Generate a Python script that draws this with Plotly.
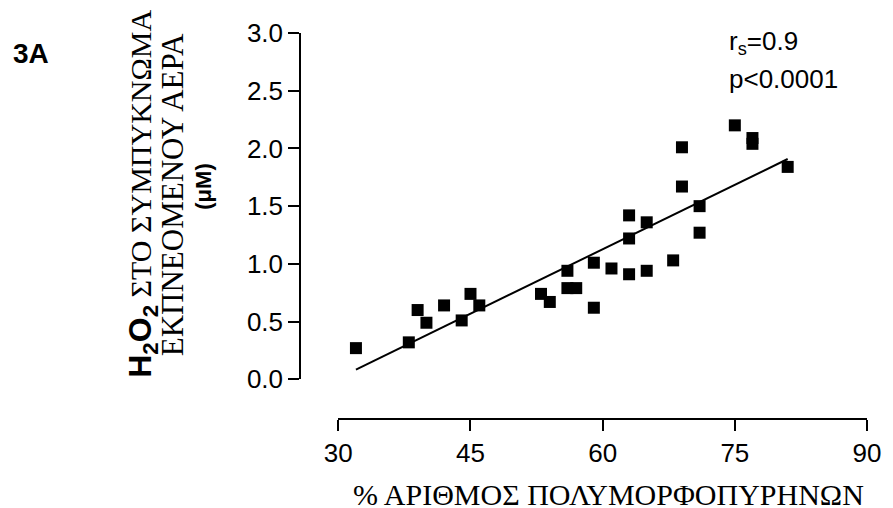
import numpy as np
import plotly.graph_objects as go

# % polymorphonuclear cells vs exhaled-breath-condensate H2O2 (µM)
pmn_pct = [32, 38, 39, 40, 42, 44, 45, 46, 53, 54, 56, 56, 57, 59, 59,
           61, 63, 63, 63, 65, 65, 68, 69, 69, 71, 71, 75, 77, 77, 81]
h2o2_um = [0.27, 0.32, 0.60, 0.49, 0.64, 0.51, 0.74, 0.64, 0.74, 0.67, 0.94, 0.79, 0.79, 1.01, 0.62,
           0.96, 1.42, 1.22, 0.91, 1.36, 0.94, 1.03, 2.01, 1.67, 1.50, 1.27, 2.20, 2.09, 2.04, 1.84]

x_ticks = [30, 45, 60, 75, 90]
y_ticks = [0.0, 0.5, 1.0, 1.5, 2.0, 2.5, 3.0]

# least-squares line over the observed x span
slope, intercept = np.polyfit(pmn_pct, h2o2_um, 1)
fit_x = np.array([min(pmn_pct), max(pmn_pct)])
fit_y = slope * fit_x + intercept

W, H = 893, 508
ML, MR, MT, MB = 300, 16, 33, 89
PW, PH = W - ML - MR, H - MT - MB


def px(x):
    return (x - ML) / PW


def py(y):
    return (H - MB - y) / PH


SANS = "Liberation Sans, Arial, sans-serif"
SERIF = "Liberation Serif, Times New Roman, serif"

fig = go.Figure()
fig.add_trace(go.Scatter(
    x=fit_x, y=fit_y, mode="lines",
    line=dict(color="black", width=2), hoverinfo="skip", showlegend=False))
fig.add_trace(go.Scatter(
    x=pmn_pct, y=h2o2_um, mode="markers",
    marker=dict(symbol="square", size=12, color="black"),
    cliponaxis=False, showlegend=False))

axis_common = dict(
    showgrid=False, zeroline=False, showline=True, linecolor="black", linewidth=1.5,
    ticks="outside", ticklen=11, tickwidth=1.5, tickcolor="black",
    tickfont=dict(family=SANS, size=26, color="black"), anchor="free", position=0,
)
fig.update_xaxes(range=[30, 90], domain=[px(339), 1], tickvals=x_ticks, **axis_common)
fig.update_yaxes(range=[0, 3], domain=[py(379.3), 1], tickvals=y_ticks,
                 tickformat=".1f", **axis_common)

annotations = [
    dict(text="<b>3A</b>", x=px(6), y=py(54), xanchor="left", yanchor="middle",
         font=dict(family=SANS, size=28, color="black")),
    dict(text="r<sub>s</sub>=0.9", x=px(735), y=py(43), xanchor="left", yanchor="middle",
         font=dict(family=SANS, size=26, color="black")),
    dict(text="p<0.0001", x=px(735), y=py(78.5), xanchor="left", yanchor="middle",
         font=dict(family=SANS, size=26, color="black")),
    dict(text=("<span style=\"font-family:Liberation Sans, Arial, sans-serif;font-size:32px\">"
               "<b>H<sub>2</sub>O<sub>2</sub></b></span> ΣΤΟ ΣΥΜΠΥΚΝΩΜΑ"),
         x=px(139.5), y=py(193.5), xanchor="center", yanchor="middle", textangle=-90,
         font=dict(family=SERIF, size=30, color="black")),
    dict(text="ΕΚΠΝΕΟΜΕΝΟΥ ΑΕΡΑ", x=px(170), y=py(195), xanchor="center", yanchor="middle",
         textangle=-90, font=dict(family=SERIF, size=31, color="black")),
    dict(text="<b>(μM)</b>", x=px(201), y=py(187), xanchor="center", yanchor="middle",
         textangle=-90, font=dict(family=SANS, size=22, color="black")),
    dict(text="% ΑΡΙΘΜΟΣ ΠΟΛΥΜΟΡΦΟΠΥΡΗΝΩΝ", x=px(614), y=py(494), xanchor="center",
         yanchor="middle", font=dict(family=SERIF, size=30, color="black")),
]
for a in annotations:
    a.update(xref="paper", yref="paper", showarrow=False)

fig.update_layout(
    width=W, height=H, margin=dict(l=ML, r=MR, t=MT, b=MB),
    paper_bgcolor="white", plot_bgcolor="white",
    annotations=annotations, showlegend=False,
)

fig.write_html("out.html")
